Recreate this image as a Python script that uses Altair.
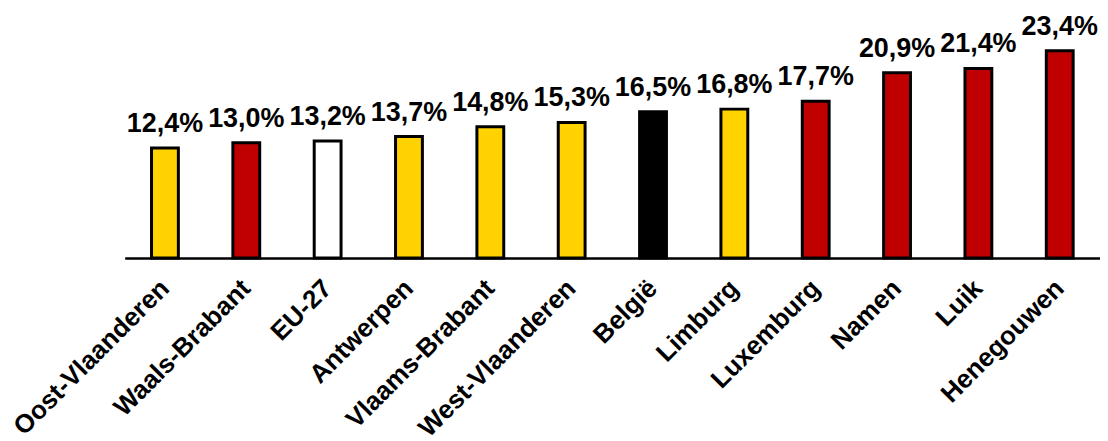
import altair as alt
import pandas as pd

regions = ["Oost-Vlaanderen", "Waals-Brabant", "EU-27", "Antwerpen", "Vlaams-Brabant",
           "West-Vlaanderen", "België", "Limburg", "Luxemburg", "Namen", "Luik", "Henegouwen"]
values = [12.4, 13.0, 13.2, 13.7, 14.8, 15.3, 16.5, 16.8, 17.7, 20.9, 21.4, 23.4]
groups = ["Vlaanderen", "Wallonië", "EU", "Vlaanderen", "Vlaanderen",
          "Vlaanderen", "België", "Vlaanderen", "Wallonië", "Wallonië", "Wallonië", "Wallonië"]

df = pd.DataFrame({
    "regio": regions,
    "waarde": values,
    "groep": groups,
    "label": [f"{v:.1f}%".replace(".", ",") for v in values],
})

font = "Liberation Sans"

x = alt.X("regio:N", sort=regions, title=None,
          scale=alt.Scale(paddingInner=0.67, paddingOuter=0.33),
          axis=alt.Axis(labelAngle=-45, labelAlign="right", labelBaseline="middle",
                        labelFont=font, labelFontSize=26, labelFontWeight="bold",
                        labelColor="black", labelPadding=26, ticks=False, labelLimit=0,
                        domainColor="black", domainWidth=2.5, labelOverlap=False))
y = alt.Y("waarde:Q", scale=alt.Scale(domain=[0, 25]), axis=None)

bars = alt.Chart(df).mark_bar(stroke="black", strokeWidth=3).encode(
    x=x, y=y,
    color=alt.Color("groep:N", legend=None,
                    scale=alt.Scale(domain=["Vlaanderen", "Wallonië", "EU", "België"],
                                    range=["#FFD200", "#C00000", "#FFFFFF", "#000000"])),
)

text = alt.Chart(df).mark_text(font=font, fontSize=27, fontWeight="bold", color="black",
                               baseline="alphabetic", dy=-16).encode(
    x=x, y=y, text="label:N")

chart = (bars + text).properties(
    width=978, height=222,
    background="white",
    autosize=alt.AutoSizeParams(type="none"),
    padding={"left": 117, "top": 28, "right": 0, "bottom": 180},
).configure_view(strokeWidth=0, stroke=None)

chart.save("out.html", embed_options={"renderer": "svg", "actions": False})
